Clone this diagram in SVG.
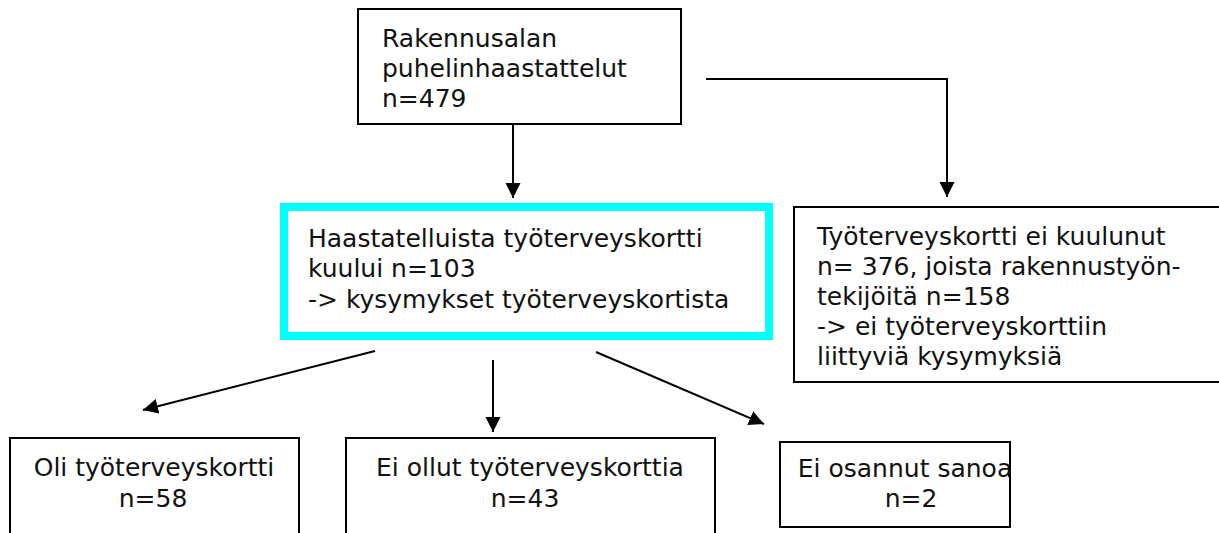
<svg xmlns="http://www.w3.org/2000/svg" width="1219" height="533" viewBox="0 0 1219 533">
<style>
  .box { fill: #ffffff; stroke: #000000; stroke-width: 2; }
  .hl { fill: #ffffff; stroke: #00ffff; stroke-width: 8; }
  .t { font-family: "DejaVu Sans", Verdana, sans-serif; font-size: 25px; fill: #111111; }
  .c { text-anchor: middle; }
  .conn { fill: none; stroke: #000000; stroke-width: 2; marker-end: url(#arrow); }
</style>
<defs>
  <marker id="arrow" markerUnits="userSpaceOnUse" markerWidth="16" markerHeight="16" viewBox="0 0 16 16" refX="15" refY="7.5" orient="auto">
    <path d="M0,0 L15,7.5 L0,15 z" fill="#000000"/>
  </marker>
</defs>
<rect width="1219" height="533" fill="#ffffff"/>

<g id="connectors">
  <line class="conn" x1="513" y1="124" x2="513" y2="198"/>
  <path class="conn" d="M706,79 H947 V197"/>
  <line class="conn" x1="375" y1="351" x2="143" y2="410"/>
  <line class="conn" x1="493" y1="360" x2="493" y2="432"/>
  <line class="conn" x1="596" y1="352" x2="764" y2="424"/>
</g>

<g id="node-puhelinhaastattelut">
  <rect class="box" x="358" y="9" width="323" height="115"/>
  <text class="t" x="382" y="47">Rakennusalan</text>
  <text class="t" x="382" y="77">puhelinhaastattelut</text>
  <text class="t" x="382" y="107">n=479</text>
</g>

<g id="node-kuului">
  <rect class="hl" x="284" y="207" width="485" height="129"/>
  <text class="t" x="308" y="247">Haastatelluista työterveyskortti</text>
  <text class="t" x="308" y="277">kuului n=103</text>
  <text class="t" x="308" y="308">-&gt; kysymykset työterveyskortista</text>
</g>

<g id="node-ei-kuulunut">
  <rect class="box" x="794" y="207" width="440" height="175"/>
  <text class="t" x="817" y="245">Työterveyskortti ei kuulunut</text>
  <text class="t" x="817" y="275">n= 376, joista rakennustyön-</text>
  <text class="t" x="817" y="305">tekijöitä n=158</text>
  <text class="t" x="817" y="335">-&gt; ei työterveyskorttiin</text>
  <text class="t" x="817" y="365">liittyviä kysymyksiä</text>
</g>

<g id="node-oli">
  <rect class="box" x="10" y="438" width="289" height="110"/>
  <text class="t c" x="154" y="476">Oli työterveyskortti</text>
  <text class="t c" x="153" y="507">n=58</text>
</g>

<g id="node-ei-ollut">
  <rect class="box" x="346" y="438" width="369" height="110"/>
  <text class="t c" x="530" y="476">Ei ollut työterveyskorttia</text>
  <text class="t c" x="525" y="507">n=43</text>
</g>

<g id="node-ei-osannut">
  <rect class="box" x="780" y="442" width="230" height="85"/>
  <text class="t c" x="905" y="477">Ei osannut sanoa</text>
  <text class="t c" x="911" y="507">n=2</text>
</g>
</svg>
